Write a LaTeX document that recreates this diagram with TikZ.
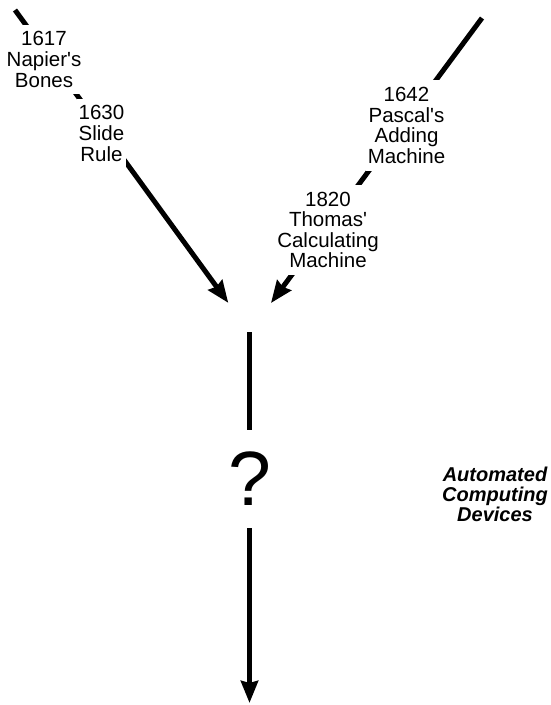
\documentclass[tikz,border=0pt]{standalone}
\usepackage{fontspec}
\setmainfont{Liberation Sans}[Ligatures=TeXOff]
\usetikzlibrary{arrows.meta}
\begin{document}
\begin{tikzpicture}[x=1pt,y=-1pt,
  plainline/.style={line width=5pt},
  arrowline/.style={line width=5pt,-{Stealth[length=22pt,width=17pt,inset=2pt]}},
  lbl/.style={font=\fontsize{20.5}{20.6}\selectfont, align=center, fill=white, inner xsep=2pt, inner ysep=7pt},
  note/.style={font=\fontsize{20}{20}\selectfont\bfseries\itshape, align=center, inner sep=0pt},
  qmark/.style={font=\fontsize{77}{80}\selectfont, fill=white, inner xsep=3pt, inner ysep=0pt, minimum height=98pt}
  ]
\useasboundingbox (0,0) rectangle (550,705);
\coordinate (ltop) at (15,10);
\coordinate (rtop) at (482,18);
\coordinate (meet) at (249.5,332);
\coordinate (vbot) at (249.5,703);
\draw[arrowline, shorten >=36pt] (ltop) -- (meet);
\draw[arrowline, shorten >=36pt] (rtop) -- (meet);
\node[lbl] (napier) at (44,59.5) {1617\\Napier's\\Bones};
\node[lbl] (slide) at (101.5,133.5) {1630\\Slide\\Rule};
\node[lbl] (pascal) at (406.5,125.5) {1642\\Pascal's\\Adding\\Machine};
\node[lbl] (thomas) at (328,230) {1820\\Thomas'\\Calculating\\Machine};
\node[qmark] (q) at (249.5,479) {?};
\draw[plainline] (meet) -- (q);
\draw[arrowline] (q) -- (vbot);
\node[note] (auto) at (495,494.5) {Automated\\Computing\\Devices};
\end{tikzpicture}
\end{document}
